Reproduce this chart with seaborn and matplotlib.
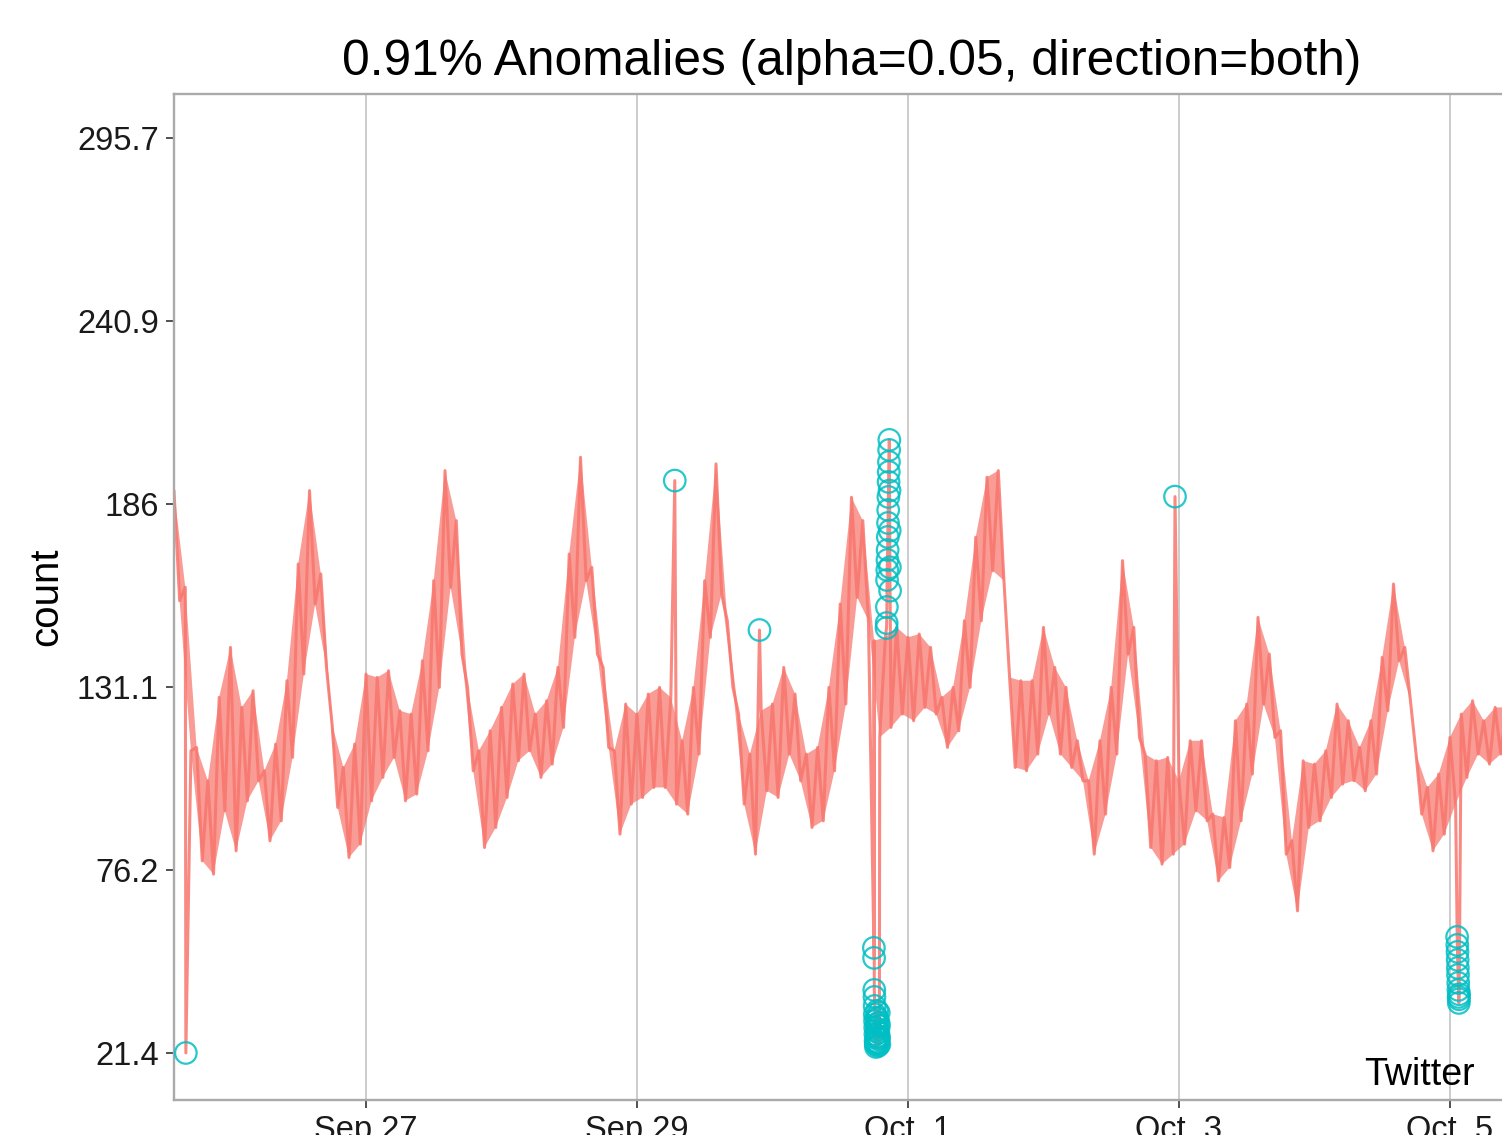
import numpy as np
import pandas as pd
import matplotlib
matplotlib.use("Agg")
import matplotlib.pyplot as plt
import matplotlib.dates as mdates
import seaborn as sns

# Time span of the minute-level Twitter counts
start = pd.Timestamp("1980-09-25 14:00")
end = pd.Timestamp("1980-10-05 14:00")

# Two-hourly envelope of the counts: upper value on the even hour, lower on the odd hour
upper = [190, 161, 113, 103, 128, 143, 125, 130, 106, 114,
         133, 168, 190, 165, 120, 107, 114, 135, 134, 136,
         124, 123, 139, 163, 196, 181, 131, 112, 118, 125,
         132, 135, 123, 127, 137, 171, 200, 167, 137, 112,
         126, 123, 129, 131, 128, 115, 131, 163, 198, 151,
         123, 111, 124, 126, 137, 129, 111, 113, 131, 156,
         188, 181, 145, 146, 149, 146, 147, 143, 128, 131,
         151, 176, 194, 196, 134, 133, 133, 149, 137, 131,
         115, 103, 115, 131, 169, 149, 111, 109, 110, 103,
         115, 115, 93, 92, 121, 126, 152, 141, 118, 85,
         109, 108, 112, 126, 121, 113, 121, 140, 162, 143,
         111, 101, 105, 116, 123, 127, 121, 125, 125]
lower = [157, 112, 79, 75, 94, 82, 97, 103, 85, 91,
         110, 135, 156, 137, 95, 80, 84, 97, 104, 110,
         97, 99, 112, 131, 161, 141, 106, 83, 89, 98,
         109, 112, 104, 108, 119, 146, 163, 141, 113, 87,
         96, 98, 101, 101, 96, 93, 111, 146, 159, 131,
         96, 81, 100, 98, 111, 103, 89, 91, 106, 126,
         158, 151, 116, 119, 123, 121, 125, 123, 113, 118,
         131, 151, 166, 163, 107, 106, 111, 123, 111, 107,
         103, 81, 93, 111, 141, 116, 83, 78, 81, 84,
         94, 91, 73, 77, 91, 105, 126, 116, 81, 64,
         89, 91, 98, 102, 103, 100, 105, 124, 139, 127,
         93, 82, 87, 96, 104, 111, 108, 111, 111]

# Isolated anomalies
single_times = ["1980-09-25 16:06", "1980-09-29 06:42",
                "1980-09-29 21:42", "1980-10-02 23:18"]
single_counts = [21.4, 193.0, 148.2, 188.2]

# Anomaly bursts, recorded every two minutes
sep30_low_start = "1980-09-30 17:58"
sep30_low = [52.9, 49.9, 40.3, 38.2, 35.5, 33.0, 31.0, 29.0, 27.0, 25.0,
             24.0, 23.2, 24.5, 26.0, 28.0, 30.0, 32.0, 34.0, 31.5, 28.5,
             26.5, 24.5, 23.5, 25.5, 27.5, 30.5, 33.5, 29.5, 26.0, 24.0]
sep30_high_start = "1980-09-30 20:12"
sep30_high = [148.8, 150.3, 155.1, 163.2, 166.2, 169.2, 172.2, 176.1, 180.3, 184.2,
              188.1, 192.6, 195.6, 198.6, 202.2, 205.2, 190.0, 178.0, 167.0, 160.0]
oct5_start = "1980-10-05 01:16"
oct5_low = [56.2, 53.8, 51.7, 49.3, 46.9, 44.8, 42.4, 40.3, 38.2, 36.4, 37.5, 39.0]

y_ticks = [21.4, 76.2, 131.1, 186.0, 240.9, 295.7]
y_tick_labels = ["21.4", "76.2", "131.1", "186", "240.9", "295.7"]
x_ticks = ["1980-09-27", "1980-09-29", "1980-10-01", "1980-10-03", "1980-10-05"]
x_tick_labels = ["Sep 27", "Sep 29", "Oct  1", "Oct  3", "Oct  5"]

title = "0.91% Anomalies (alpha=0.05, direction=both)"

LINE = "#F8766D"
ANOM = "#00BFC4"

# ---- assemble the series ----
n = len(upper)
t_up = start + pd.to_timedelta(np.arange(n) * 2, unit="h")
t_lo = t_up + pd.Timedelta(hours=1)
base = pd.DataFrame({"timestamp": np.concatenate([t_up.values, t_lo.values]),
                     "count": upper + lower})


def burst(first, counts):
    return pd.DataFrame({"timestamp": pd.date_range(first, periods=len(counts), freq="2min"),
                         "count": counts})


anoms = pd.concat([
    pd.DataFrame({"timestamp": pd.to_datetime(single_times), "count": single_counts}),
    burst(sep30_low_start, sep30_low),
    burst(sep30_high_start, sep30_high),
    burst(oct5_start, oct5_low),
], ignore_index=True)

series = pd.concat([base, anoms], ignore_index=True).sort_values("timestamp")

# ---- draw ----
sns.set_theme(style="white")
plt.rcParams["font.family"] = ["Liberation Sans", "DejaVu Sans"]

fig = plt.figure(figsize=(15.02, 11.35), dpi=100)
ax = fig.add_axes([174 / 1502, 35 / 1135, 1355 / 1502, 1006 / 1135])

# dense minute-to-minute swings appear as a band between the two envelopes
band_x = np.concatenate([mdates.date2num(t_up), mdates.date2num(t_lo)[::-1]])
band_y = np.concatenate([np.asarray(upper, float), np.asarray(lower, float)[::-1]])
ax.fill(band_x, band_y, color=LINE, alpha=0.72, linewidth=0, zorder=1)

sns.lineplot(data=series, x="timestamp", y="count", estimator=None, sort=True,
             color=LINE, alpha=0.85, linewidth=2.2, ax=ax, zorder=2)
sns.scatterplot(data=anoms, x="timestamp", y="count", s=240, marker="o",
                ax=ax, zorder=3)
pts = ax.collections[-1]
pts.set_facecolor("none")
pts.set_edgecolor(ANOM)
pts.set_linewidth(1.6)
pts.set_alpha(0.85)

ax.set_xlim(start, end)
ax.set_ylim(7.3, 308.9)

ax.set_xticks(pd.to_datetime(x_ticks))
ax.set_xticklabels(x_tick_labels)
ax.set_yticks(y_ticks)
ax.set_yticklabels(y_tick_labels)

ax.grid(False)
ax.xaxis.grid(True, color="#CCCCCC", linewidth=1.4)
ax.set_axisbelow(True)

for side in ["left", "top", "bottom", "right"]:
    ax.spines[side].set_color("#AAAAAA")
    ax.spines[side].set_linewidth(1.7)

ax.tick_params(axis="both", bottom=True, left=True, length=6, width=1.2,
               color="#333333", labelsize=23.5, labelcolor="#1A1A1A", pad=5)

ax.set_xlabel("")
ax.set_ylabel("count", fontsize=29, color="#000000")
ax.yaxis.set_label_coords(-0.080, 0.5)

ax.text(0.5, 1.019, title, transform=ax.transAxes, ha="center", va="baseline",
        fontsize=35.7, color="#000000")
ax.text(0.960, 0.0149, "Twitter", transform=ax.transAxes, ha="right", va="baseline",
        fontsize=27, color="#000000")

fig.savefig("out.png", dpi=100)
